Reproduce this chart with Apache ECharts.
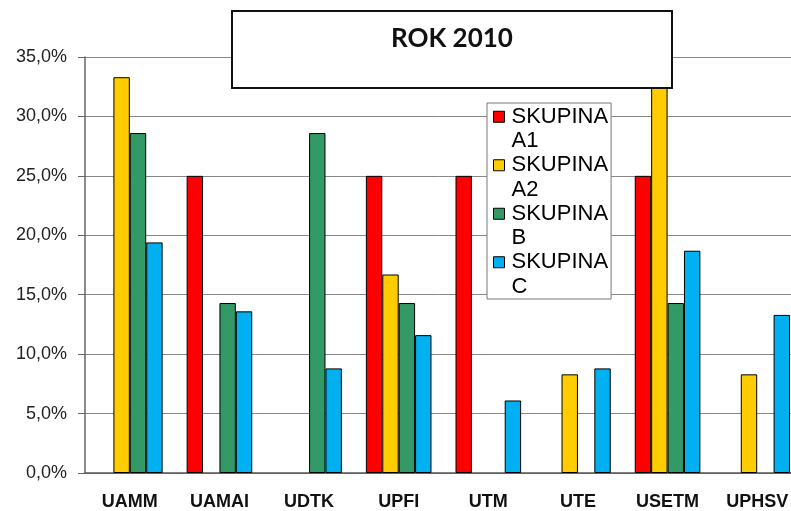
<!doctype html>
<html>
<head>
<meta charset="utf-8">
<title>ROK 2010</title>
<script src="https://cdn.jsdelivr.net/npm/echarts@6/dist/echarts.min.js"></script>
</head>
<body style="margin:0;background:#fff;">

<div id="container" style="width:791px;height:511px;background:white;"></div>

<script type="text/javascript">
    // katedry
    var categories = ['UAMM', 'UAMAI', 'UDTK', 'UPFI', 'UTM', 'UTE', 'USETM', 'UPHSV'];
    // skupiny
    var groupNames = ['SKUPINA A1', 'SKUPINA A2', 'SKUPINA B', 'SKUPINA C'];
    var groupColors = ['#ff0000', '#ffcc00', '#339966', '#00b0f0'];
    // hodnoty v %
    var skupinaA1 = [0, 25, 0, 25, 25, 0, 25, 0];
    var skupinaA2 = [33.3, 0, 0, 16.7, 0, 8.3, 33.3, 8.3];
    var skupinaB = [28.6, 14.3, 28.6, 14.3, 0, 0, 14.3, 0];
    var skupinaC = [19.4, 13.6, 8.8, 11.6, 6.1, 8.8, 18.7, 13.3];
    var groupValues = [skupinaA1, skupinaA2, skupinaB, skupinaC];

    var series = [];
    for (var i = 0; i < groupNames.length; i++) {
        series.push({
            name: groupNames[i],
            type: 'bar',
            // nulove hodnoty se nekresli (jinak cara na ose)
            data: groupValues[i].map(function (v) { return v === 0 ? '-' : v; }),
            barWidth: 16.4,
            barGap: '0%',
            itemStyle: {
                color: groupColors[i],
                borderColor: '#000',
                borderWidth: 1
            }
        });
    }

    var option = {
        animation: false,
        backgroundColor: '#fff',
        title: {
            text: 'ROK 2010',
            left: 232,
            top: 11,
            padding: [15, 159, 36, 159],
            backgroundColor: '#fff',
            borderColor: '#111',
            borderWidth: 2,
            textStyle: { fontFamily: 'Lato', fontWeight: 'bold', fontSize: 26, color: '#111' }
        },
        legend: {
            orient: 'vertical',
            left: 487,
            top: 103,
            icon: 'rect',
            itemWidth: 11,
            itemHeight: 11,
            itemGap: -25,
            padding: [-23, 3, 0, 6],
            backgroundColor: '#fff',
            borderColor: '#777',
            borderWidth: 1,
            selectedMode: false,
            // prazdny prvni radek -> "SKUPINA" je v urovni ikonky
            formatter: function (name) { return ' \n' + name.replace(' ', '\n'); },
            textStyle: {
                fontFamily: 'Liberation Sans',
                fontSize: 22,
                lineHeight: 24.5,
                color: '#000',
                padding: [0, 0, 0, 2]
            },
            itemStyle: { borderColor: '#000', borderWidth: 1 }
        },
        grid: {
            left: 85,
            top: 57,
            right: -11,
            bottom: 38,
            containLabel: false,
            outerBoundsMode: 'none'
        },
        xAxis: {
            type: 'category',
            data: categories,
            axisLine: { lineStyle: { color: '#555', width: 1.5 } },
            axisTick: { length: 6, lineStyle: { color: '#555' } },
            axisLabel: {
                interval: 0,
                margin: 20,
                fontSize: 18,
                fontWeight: 'bold',
                color: '#111',
                fontFamily: 'Liberation Sans'
            }
        },
        yAxis: {
            type: 'value',
            min: 0,
            max: 35,
            interval: 5,
            axisLine: { show: true, lineStyle: { color: '#666', width: 1.5 } },
            axisTick: { show: true, length: 7, lineStyle: { color: '#666' } },
            splitLine: { lineStyle: { color: '#888', width: 1 } },
            axisLabel: {
                margin: 18,
                fontSize: 18,
                color: '#222',
                fontFamily: 'Liberation Sans',
                formatter: function (v) { return v.toFixed(1).replace('.', ',') + '%'; }
            }
        },
        series: series
    };

    var myChart = echarts.init(document.getElementById('container'));
    myChart.setOption(option);
</script>
</body>
</html>
